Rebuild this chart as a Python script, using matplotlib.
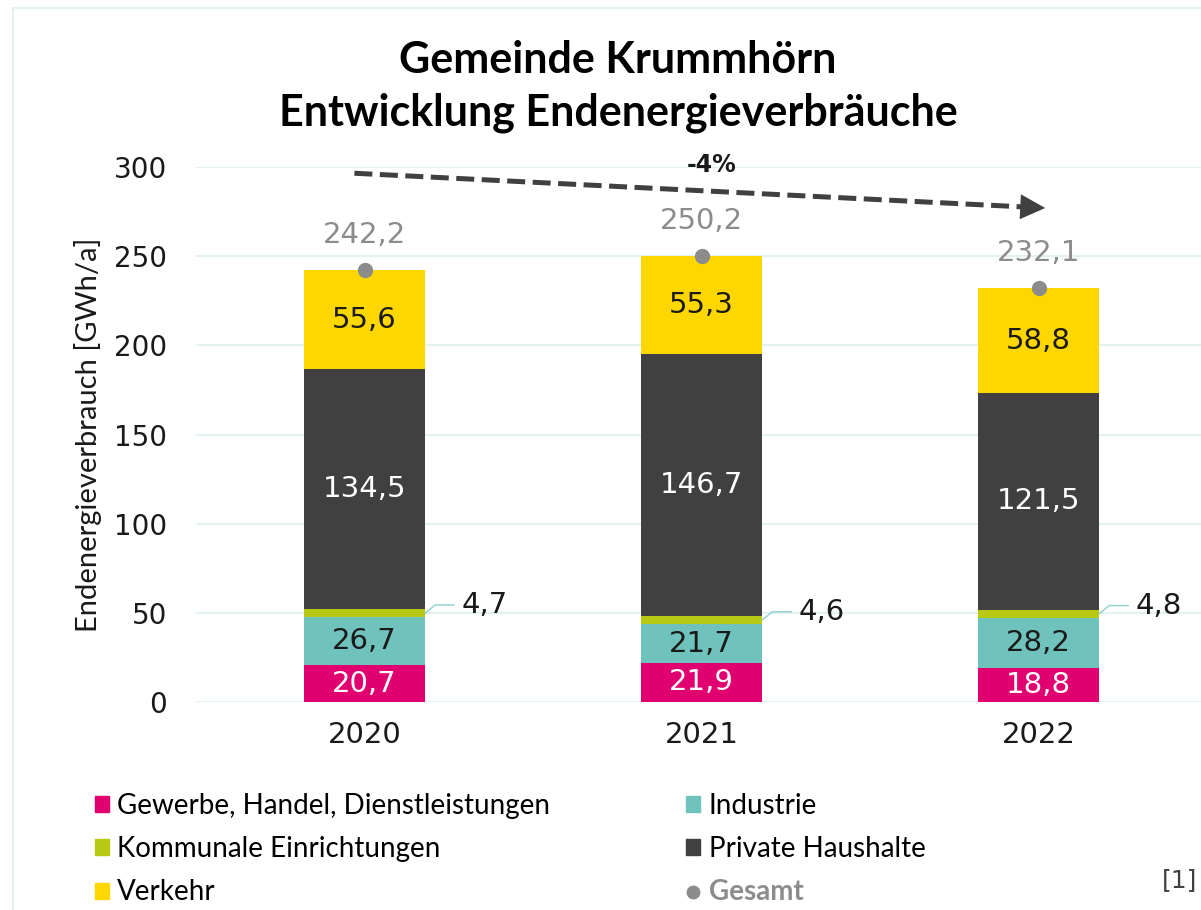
import matplotlib
matplotlib.use("Agg")
import matplotlib.pyplot as plt
from matplotlib.patches import Patch, Rectangle
from matplotlib.lines import Line2D

years = ["2020", "2021", "2022"]
gewerbe = [20.7, 21.9, 18.8]
industrie = [26.7, 21.7, 28.2]
kommunal = [4.7, 4.6, 4.8]
private = [134.5, 146.7, 121.5]
verkehr = [55.6, 55.3, 58.8]
gesamt = [242.2, 250.2, 232.1]
trend_label = "-4%"

series = [
    ("Gewerbe, Handel, Dienstleistungen", gewerbe, "#E0006F", "white"),
    ("Industrie", industrie, "#70C3BC", "#1a1a1a"),
    ("Kommunale Einrichtungen", kommunal, "#B8C914", None),
    ("Private Haushalte", private, "#404040", "white"),
    ("Verkehr", verkehr, "#FFD700", "#1a1a1a"),
]

def fmt(v):
    return f"{v:.1f}".replace(".", ",")

num_font = "DejaVu Sans"
txt_font = "Lato"

fig = plt.figure(figsize=(12.01, 9.10), dpi=100)
fig.patches.append(Rectangle((13 / 1201, -0.1), 1.2, 1 - 8 / 910 + 0.1,
                             transform=fig.transFigure, fill=False,
                             edgecolor="#E3F1F1", lw=1.5))

ax = fig.add_axes([196 / 1201, 1 - 702 / 910, 1011 / 1201, 535 / 910])
x = range(len(years))
bottom = [0.0] * len(years)
w = 0.36
for name, vals, col, lcol in series:
    ax.bar(x, vals, w, bottom=bottom, color=col, zorder=2)
    for i, v in enumerate(vals):
        if lcol is not None:
            ax.text(i, bottom[i] + v / 2, fmt(v), ha="center", va="center",
                    color=lcol, fontsize=21, family=num_font, zorder=4)
        else:
            ax.annotate(fmt(v), xy=(i + w / 2, bottom[i] + v / 2),
                        xytext=(26, 6), textcoords="offset points",
                        ha="left", va="center", fontsize=21, family=num_font,
                        color="#1a1a1a",
                        arrowprops=dict(arrowstyle="-", color="#8CCFCF", lw=1,
                                        shrinkA=3, shrinkB=0,
                                        connectionstyle="angle,angleA=0,angleB=40,rad=0"))
    bottom = [b + v for b, v in zip(bottom, vals)]

ax.plot(x, gesamt, "o", color="#8C8C8C", ms=10, zorder=5)
for i, v in enumerate(gesamt):
    ax.annotate(fmt(v), xy=(i, v), xytext=(0, 15), textcoords="offset points",
                ha="center", va="bottom", fontsize=21, family=num_font,
                color="#8C8C8C")

# trend arrow
x0, y0, x1, y1 = -0.03, 296.5, 2.02, 277.0
frac = 0.975
ax.plot([x0, x0 + (x1 - x0) * frac], [y0, y0 + (y1 - y0) * frac],
        color="#404040", lw=3.6, dashes=(3.6, 1.5), solid_capstyle="butt",
        zorder=3)
ax.annotate("", xy=(x1, y1), xytext=(x0 + (x1 - x0) * 0.96, y0 + (y1 - y0) * 0.96),
            arrowprops=dict(arrowstyle="-|>,head_length=0.9,head_width=0.45",
                            color="#404040", lw=0, mutation_scale=20,
                            shrinkA=0, shrinkB=0))
ax.text(1.03, 301, trend_label, ha="center", va="center", fontsize=17,
        fontweight="bold", family=num_font, color="#1a1a1a")

ax.set_xlim(-0.5, 2.5)
ax.set_ylim(0, 300)
ax.set_yticks(range(0, 301, 50))
ax.set_xticks(list(x))
ax.set_xticklabels(years)
ax.tick_params(length=0, labelsize=20, labelcolor="#1a1a1a")
ax.tick_params(axis="x", pad=14, labelsize=21)
ax.tick_params(axis="y", pad=21)
for lab in ax.get_xticklabels() + ax.get_yticklabels():
    lab.set_family(num_font)
ax.grid(axis="y", color="#E3F1F1", lw=1.5, zorder=0)
ax.set_axisbelow(True)
for s in ax.spines.values():
    s.set_visible(False)
ax.set_ylabel("Endenergieverbrauch [GWh/a]", fontsize=21, family=txt_font,
              color="#1a1a1a", labelpad=8)

fig.text(618 / 1201, 1 - 60 / 910, "Gemeinde Krummhörn", ha="center",
         va="center", fontsize=31, fontweight="bold", family=txt_font)
fig.text(618 / 1201, 1 - 113 / 910, "Entwicklung Endenergieverbräuche",
         ha="center", va="center", fontsize=31, fontweight="bold",
         family=txt_font)

handles = [
    Patch(color=series[0][2]), Patch(color=series[2][2]), Patch(color=series[4][2]),
    Patch(color=series[1][2]), Patch(color=series[3][2]),
    Line2D([], [], marker="o", ls="", color="#8C8C8C", ms=9),
]
labels = [series[0][0], series[2][0], series[4][0], series[1][0], series[3][0], "Gesamt"]
leg = fig.legend(handles, labels, loc="upper left",
                 bbox_to_anchor=(70 / 1201, 1 - 768 / 910), ncol=2,
                 frameon=False, prop={"family": txt_font, "size": 20},
                 handlelength=0.5, handleheight=0.5, handletextpad=0.3,
                 columnspacing=4.9, labelspacing=0.62)
gt = leg.get_texts()[5]
gt.set_color("#8C8C8C")
gt.set_fontweight("bold")

fig.text(1197 / 1201, 1 - 880 / 910, "[1]", ha="right", va="center",
         fontsize=18, family=num_font, color="#404040")

fig.savefig("out.png", dpi=100)
